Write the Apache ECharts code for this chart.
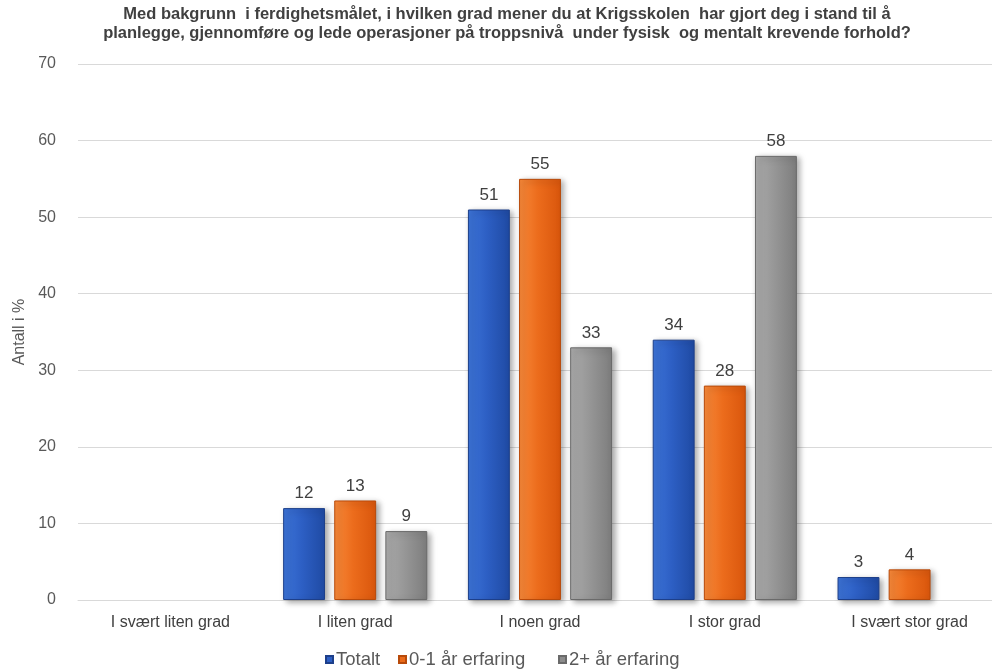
<!DOCTYPE html>
<html>
<head>
<meta charset="utf-8">
<script src="https://cdn.jsdelivr.net/npm/echarts@6/dist/echarts.min.js"></script>
<style>
  html, body { margin: 0; padding: 0; background: #fff; overflow: hidden; }
  #chart { width: 1004px; height: 670px; }
</style>
</head>
<body>
<div id="chart"></div>
<script>
const categories = ['I svært liten grad', 'I liten grad', 'I noen grad', 'I stor grad', 'I svært stor grad'];
const seriesNames = ['Totalt', '0-1 år erfaring', '2+ år erfaring'];
const totalt = [null, 12, 51, 34, 3];
const erfaring01 = [null, 13, 55, 28, 4];
const erfaring2 = [null, 9, 33, 58, null];
const yTicks = [0, 10, 20, 30, 40, 50, 60, 70];

const FONT = 'Liberation Sans, Arial, sans-serif';
const legendColors = ['#2d5fc4', '#ea6a1a', '#8c8c8c'];
const legendLefts = [325, 398, 558];
const chart = echarts.init(document.getElementById('chart'));

function grad(c1, c2, c3) {
  return new echarts.graphic.LinearGradient(0, 0, 1, 0, [
    { offset: 0, color: c1 },
    { offset: 0.45, color: c2 },
    { offset: 1, color: c3 }
  ]);
}

function barSeries(name, data, c1, c2, c3, border) {
  return {
    name: name,
    type: 'bar',
    data: data,
    barGap: '22%',
    barCategoryGap: '22%',
    itemStyle: {
      color: grad(c1, c2, c3),
      borderColor: border,
      borderWidth: 1,
      shadowColor: 'rgba(0,0,0,0.35)',
      shadowBlur: 6,
      shadowOffsetX: 3,
      shadowOffsetY: 2
    },
    label: {
      show: true,
      position: 'top',
      distance: 6,
      color: '#404040',
      fontSize: 17,
      fontFamily: FONT
    }
  };
}

// one legend block per series so each entry sits at its own spot
const legends = seriesNames.map((name, i) => ({
  top: 650,
  left: legendLefts[i],
  padding: 0,
  itemWidth: 7,
  itemHeight: 7,
  icon: 'rect',
  textStyle: { fontSize: 18.5, color: '#595959', fontFamily: FONT, padding: [0, 0, 0, -2] },
  data: [{ name: name, itemStyle: { color: legendColors[i] } }]
}));

chart.setOption({
  animation: false,
  title: {
    text: 'Med bakgrunn  i ferdighetsmålet, i hvilken grad mener du at Krigsskolen  har gjort deg i stand til å\nplanlegge, gjennomføre og lede operasjoner på troppsnivå  under fysisk  og mentalt krevende forhold?',
    left: 502,
    textAlign: 'center',
    top: 0,
    textStyle: {
      fontSize: 16.5,
      fontWeight: 'bold',
      color: '#404040',
      lineHeight: 19,
      fontFamily: FONT
    }
  },
  legend: legends,
  grid: { left: 78, right: 2, top: 64, bottom: 70, containLabel: false },
  xAxis: {
    type: 'category',
    data: categories,
    axisLine: { show: true, lineStyle: { color: '#d9d9d9' } },
    axisTick: { show: false },
    axisLabel: { color: '#404040', fontSize: 16, margin: 15, fontFamily: FONT }
  },
  yAxis: {
    type: 'value',
    min: yTicks[0],
    max: yTicks[yTicks.length - 1],
    interval: 10,
    name: 'Antall i %',
    nameLocation: 'middle',
    nameGap: 50,
    nameTextStyle: { color: '#595959', fontSize: 16, fontFamily: FONT },
    axisLine: { show: false },
    axisTick: { show: false },
    axisLabel: { color: '#595959', fontSize: 16, margin: 22, fontFamily: FONT },
    splitLine: { lineStyle: { color: '#d9d9d9' } }
  },
  series: [
    barSeries(seriesNames[0], totalt, '#3d74d8', '#2d5fc4', '#1f4aa3', '#1d3f8a'),
    barSeries(seriesNames[1], erfaring01, '#f7893a', '#ec6c1c', '#d9560c', '#b84a0a'),
    barSeries(seriesNames[2], erfaring2, '#ababab', '#979797', '#7d7d7d', '#6a6a6a')
  ]
});
</script>
</body>
</html>
